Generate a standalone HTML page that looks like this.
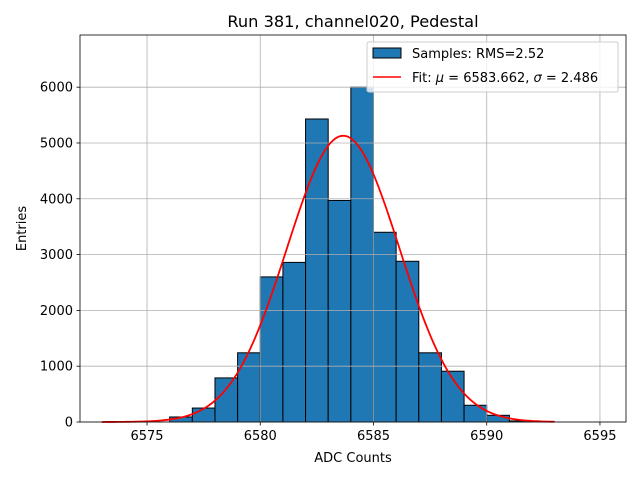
<!DOCTYPE html>
<html><head><meta charset="utf-8"><style>
body{margin:0;background:#fff;font-family:"Liberation Sans","DejaVu Sans",sans-serif}
svg text{font-family:"DejaVu Sans","Liberation Sans",sans-serif}
</style></head><body>
<svg id="c" width="640" height="480"></svg>
<script>
const binStarts=[6576,6577,6578,6579,6580,6581,6582,6583,6584,6585,6586,6587,6588,6589,6590,6591];
const counts=[90,250,790,1240,2600,2860,5430,3970,6000,3400,2880,1240,910,300,120,20];
const xTicks=[6575,6580,6585,6590,6595];
const yTicks=[0,1000,2000,3000,4000,5000,6000];
const fitMu=6583.662, fitSigma=2.486, fitAmp=5130;
const L=80,R=626,T=35,B=422, xMin=6572.04,xMax=6596.15,yMax=6935;
const X=v=>L+(v-xMin)/(xMax-xMin)*(R-L);
const Y=v=>B-v/yMax*(B-T);
const s=document.getElementById('c');const NS='http://www.w3.org/2000/svg';
function mk(t,a,p){const e=document.createElementNS(NS,t);for(const k in a)e.setAttribute(k,a[k]);(p||s).appendChild(e);return e;}
mk('rect',{x:0,y:0,width:640,height:480,fill:'#fff'});
binStarts.forEach((b,i)=>{const r=mk('rect',{x:X(b),y:Y(counts[i]),width:X(b+1)-X(b),height:B-Y(counts[i]),fill:'#1f77b4',stroke:'#000','stroke-width':1});

});
xTicks.forEach(v=>{const g=mk('line',{x1:X(v),x2:X(v),y1:T,y2:B,stroke:'#b0b0b0','stroke-width':0.8});


mk('line',{x1:X(v),x2:X(v),y1:B,y2:B+3.5,stroke:'#000','stroke-width':0.8});
const t=mk('text',{x:X(v),y:B+18,'font-size':13,'text-anchor':'middle'});t.textContent=v;

});
yTicks.forEach(v=>{const g=mk('line',{x1:L,x2:R,y1:Y(v),y2:Y(v),stroke:'#b0b0b0','stroke-width':0.8});


mk('line',{x1:L-3.5,x2:L,y1:Y(v),y2:Y(v),stroke:'#000','stroke-width':0.8});
const t=mk('text',{x:L-7,y:Y(v)+4.5,'font-size':13,'text-anchor':'end'});t.textContent=v;

});
let d='';for(let v=6573;v<=6593.001;v+=0.1){const y=fitAmp*Math.exp(-0.5*((v-fitMu)/fitSigma)**2);d+=(d?'L':'M')+X(v).toFixed(2)+','+Y(y).toFixed(2);}
const p=mk('path',{d:d,fill:'none',stroke:'#ff0000','stroke-width':1.8});


mk('rect',{x:L,y:T,width:R-L,height:B-T,fill:'none',stroke:'#000','stroke-width':0.8});
const tt=mk('text',{x:(L+R)/2,y:27,'font-size':16.2,'text-anchor':'middle'});tt.textContent='Run 381, channel020, Pedestal';


const xl=mk('text',{x:(L+R)/2,y:462,'font-size':13,'text-anchor':'middle'});xl.textContent='ADC Counts';


const yl=mk('text',{x:26,y:(T+B)/2,'font-size':13,'text-anchor':'middle',transform:'rotate(-90 26 '+(T+B)/2+')'});yl.textContent='Entries';


const lg=mk('g',{});


mk('rect',{x:367,y:42,width:251,height:50,rx:2,fill:'#fff','fill-opacity':0.8,stroke:'#ccc'},lg);
mk('rect',{x:373,y:48,width:28,height:10,fill:'#1f77b4',stroke:'#000'},lg);
const l1=mk('text',{x:412,y:58,'font-size':13},lg);l1.textContent='Samples: RMS=2.52';
mk('line',{x1:373,x2:401,y1:77,y2:77,stroke:'#ff0000','stroke-width':1.5},lg);
const l2=mk('text',{x:412,y:82,'font-size':13},lg);l2.innerHTML='Fit: <tspan font-style="italic">μ</tspan> = 6583.662, <tspan font-style="italic">σ</tspan> = 2.486';
</script>
</body></html>
